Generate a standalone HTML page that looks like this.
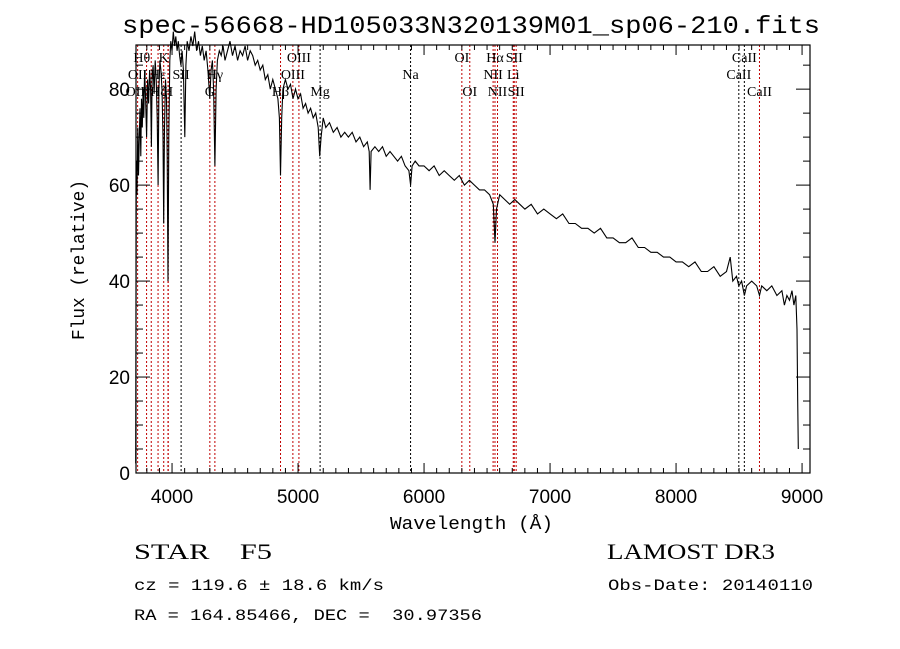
<!DOCTYPE html>
<html><head><meta charset="utf-8"><style>
html,body{margin:0;padding:0;background:#fff;}
svg{display:block;white-space:pre;}
text{fill:#000;white-space:pre;}
</style></head><body>
<svg id="chart" width="900" height="649" xmlns="http://www.w3.org/2000/svg" xml:space="preserve">
<rect width="900" height="649" fill="#fff"/>
<text x="122" y="33" font-family="Liberation Mono, monospace" font-size="25" textLength="698" lengthAdjust="spacingAndGlyphs">spec-56668-HD105033N320139M01_sp06-210.fits</text>
<g id="lines"></g>
<g id="labels"></g>
<path id="spec" fill="none" stroke="#000" stroke-width="1.1"/>
<rect x="136" y="45" width="674" height="428" fill="none" stroke="#000" stroke-width="1.2"/>
<g id="ticks"></g>
<text x="390" y="529" font-family="Liberation Mono, monospace" font-size="18" textLength="163" lengthAdjust="spacingAndGlyphs">Wavelength (Å)</text>
<text transform="translate(84,340) rotate(-90)" font-family="Liberation Mono, monospace" font-size="18" textLength="160" lengthAdjust="spacingAndGlyphs">Flux (relative)</text>
<text x="134" y="559" font-family="Liberation Serif, serif" font-size="22" textLength="138" lengthAdjust="spacingAndGlyphs">STAR    F5</text>
<text x="607" y="559" font-family="Liberation Serif, serif" font-size="22" textLength="168" lengthAdjust="spacingAndGlyphs">LAMOST DR3</text>
<text x="134" y="590" font-family="Liberation Mono, monospace" font-size="16" textLength="250" lengthAdjust="spacingAndGlyphs">cz = 119.6 ± 18.6 km/s</text>
<text x="608" y="590" font-family="Liberation Mono, monospace" font-size="16" textLength="205" lengthAdjust="spacingAndGlyphs">Obs-Date: 20140110</text>
<text x="134" y="620" font-family="Liberation Mono, monospace" font-size="16" textLength="348" lengthAdjust="spacingAndGlyphs">RA = 164.85466, DEC =  30.97356</text>
</svg>
<script>
const wl=[3712,3716,3722,3728,3734,3740,3746,3752,3758,3764,3770,3776,3782,3790,3798,3806,3814,3822,3830,3836,3842,3850,3858,3866,3874,3882,3889,3896,3904,3912,3920,3928,3934,3940,3948,3956,3962,3968,3974,3982,3990,4000,4010,4020,4030,4040,4050,4060,4070,4080,4090,4101,4110,4120,4135,4150,4165,4180,4195,4210,4225,4240,4255,4270,4285,4300,4310,4320,4330,4340,4350,4360,4375,4390,4405,4420,4440,4460,4480,4500,4520,4540,4560,4580,4600,4620,4640,4660,4680,4700,4720,4740,4760,4780,4800,4820,4840,4852,4861,4870,4880,4900,4920,4940,4960,4980,5000,5020,5040,5060,5080,5100,5120,5140,5160,5172,5183,5200,5220,5250,5280,5310,5340,5370,5400,5430,5460,5490,5520,5550,5565,5572,5580,5610,5640,5670,5700,5730,5760,5790,5820,5850,5880,5893,5905,5930,5960,6000,6040,6080,6120,6160,6200,6240,6280,6320,6360,6400,6440,6480,6520,6550,6563,6575,6600,6640,6680,6720,6760,6800,6850,6900,6950,7000,7050,7100,7150,7200,7250,7300,7350,7400,7450,7500,7550,7600,7650,7700,7750,7800,7850,7900,7950,8000,8050,8100,8150,8200,8250,8300,8350,8400,8430,8450,8480,8498,8520,8542,8560,8600,8640,8662,8680,8720,8760,8800,8840,8860,8880,8900,8920,8935,8950,8960,8965,8970];
const flux=[2,65,58,72,62,70,76,66,78,72,80,74,84,78,70,82,77,84,80,68,82,85,79,86,82,74,60,80,86,84,80,70,52,72,82,78,66,40,70,86,90,88,92,89,91,88,90,87,85,88,84,70,85,90,88,91,89,92,88,90,87,89,86,88,84,78,84,86,80,64,80,86,88,87,89,86,88,90,87,89,86,88,87,89,86,88,87,85,86,84,85,82,83,80,82,80,78,74,62,74,80,82,80,81,78,80,78,79,76,77,75,76,74,75,72,66,70,74,72,73,71,72,70,71,70,71,69,70,68,69,67,59,67,68,67,68,66,67,66,65,66,64,63,60,64,65,64,64,63,64,62,63,62,61,62,60,61,60,59,59,58,56,48,55,58,57,56,57,56,55,56,54,55,54,53,54,52,52,51,51,50,51,49,49,48,48,49,47,47,46,46,45,45,44,44,43,44,42,42,43,41,42,45,40,41,39,40,37,39,40,39,37,39,38,39,37,38,35,37,36,38,35,37,30,15,5];
const lineWl=[3727,3798,3835,3889,3934,3968,3970,4072,4300,4340,4861,4959,5007,5175,5893,6300,6363,6548,6563,6583,6708,6716,6731,8498,8542,8662];
const lineRed=[1,1,1,1,1,1,1,0,1,1,1,1,1,0,0,1,1,1,1,1,1,1,1,0,0,1];
const labelText=["Hθ","K","OII","Hε","SII","Hγ","OIII","G","Hβ","OIII","Mg","Na","OI","OI","Hα","SII","NII","Li","NII","SII","CaII","CaII","CaII","OIII","Hζ","H"];
const labelWl=[3760,3934,3727,3889,4072,4340,5007,4300,4861,4959,5175,5893,6300,6363,6563,6716,6548,6708,6583,6731,8542,8498,8662,3727,3889,3968];
const labelRow=[0,0,1,1,1,1,0,2,2,1,2,1,0,2,0,0,1,1,2,2,0,1,2,2,2,2];
const xTicks=[4000,5000,6000,7000,8000,9000];
const yTicks=[0,20,40,60,80];
const X0=3714,X1=9063,Y0=0,Y1=89.2,L=136,R=810,T=45,B=473;
const xs=w=>L+(w-X0)/(X1-X0)*(R-L);
const ys=f=>B-(f-Y0)/(Y1-Y0)*(B-T);
const NS='http://www.w3.org/2000/svg';
function mk(tag,parent,attrs){const e=document.createElementNS(NS,tag);for(const k in attrs)e.setAttribute(k,attrs[k]);parent.appendChild(e);return e;}
let d='';
for(let i=0;i<wl.length;i++){d+=(i?'L':'M')+xs(wl[i]).toFixed(1)+' '+ys(flux[i]).toFixed(1);}
document.getElementById('spec').setAttribute('d',d);
const lg=document.getElementById('lines');
lineWl.forEach((w,i)=>{const e=mk('line',lg,{x1:xs(w),x2:xs(w),y1:T,y2:B,stroke:lineRed[i]?'#c00000':'#000','stroke-width':1,'stroke-dasharray':'2,2'});

});
const lb=document.getElementById('labels');
const rowY=[62,79,96];
labelText.forEach((t,i)=>{const e=mk('text',lb,{x:xs(labelWl[i]),y:rowY[labelRow[i]],'text-anchor':'middle','font-family':'Liberation Serif, serif','font-size':14});e.textContent=t;

});
const tg=document.getElementById('ticks');
for(let w=3800;w<=9000;w+=100){const maj=w%1000===0;const x=xs(w);const len=maj?10:5;
mk('line',tg,{x1:x,x2:x,y1:B,y2:B-len,stroke:'#000'});mk('line',tg,{x1:x,x2:x,y1:T,y2:T+len,stroke:'#000'});}
for(let f=0;f<=85;f+=5){const maj=f%20===0;const y=ys(f);const len=maj?14:7;
mk('line',tg,{x1:L,x2:L+len,y1:y,y2:y,stroke:'#000'});mk('line',tg,{x1:R,x2:R-len,y1:y,y2:y,stroke:'#000'});}
xTicks.forEach(w=>{const e=mk('text',tg,{x:xs(w),y:503,'text-anchor':'middle','font-family':'Liberation Sans, sans-serif','font-size':19});e.textContent=w;

});
yTicks.forEach(f=>{const e=mk('text',tg,{x:130,y:ys(f)+7,'text-anchor':'end','font-family':'Liberation Sans, sans-serif','font-size':19});e.textContent=f;

});
</script>
</body></html>
